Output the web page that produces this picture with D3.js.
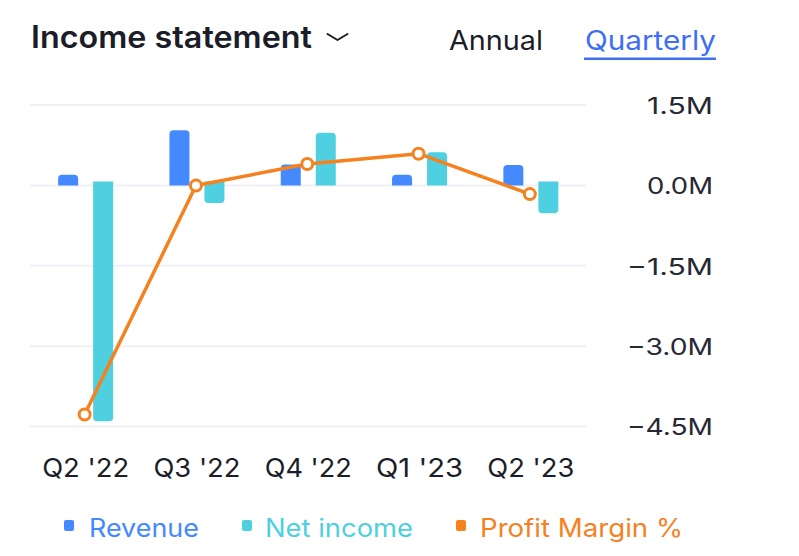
<!DOCTYPE html>
<html>
<head>
<meta charset="utf-8">
<script src="https://cdn.jsdelivr.net/npm/d3@7"></script>
<style>
  html, body { margin: 0; padding: 0; background: #ffffff; }
  svg { display: block; }
  text { font-family: Inter, "Noto Sans", "DejaVu Sans", sans-serif; }
</style>
</head>
<body>
<svg id="chart" width="799" height="556"></svg>
<script>
// ---- data ----
const categories = ["Q2 '22", "Q3 '22", "Q4 '22", "Q1 '23", "Q2 '23"];
const revenue = [0.20, 1.03, 0.39, 0.20, 0.38];          // millions
const netIncome = [-4.40, -0.33, 0.98, 0.62, -0.52];     // millions
const profitMargin = [-2280, -2, 213, 315, -87];         // percent (secondary, hidden axis)
const yTicks = [1.5, 0, -1.5, -3.0, -4.5];
const seriesNames = ["Revenue", "Net income", "Profit Margin %"];

// ---- style ----
const C = {
  revenue: "#4589FF",
  net: "#4ED0E0",
  margin: "#F5821F",
  text: "#1B1D28",
  grid: "#EEF0F6",
  tab: "#3D6EF5"
};

const svg = d3.select("#chart");

const x = d3.scaleBand().domain(categories).range([30, 586.5]).padding(0);
const y = d3.scaleLinear().domain([-4.5, 1.5]).range([426.5, 105]);
const yPct = d3.scaleLinear().domain([-2400, 800]).range([426.5, 105]);

const fmt = v => (v < 0 ? "\u2212" : "") + Math.abs(v).toFixed(1) + "M";

function fit(sel, w) {
  sel.attr("textLength", w).attr("lengthAdjust", "spacingAndGlyphs");
  return sel;
}

// ---- header ----
fit(svg.append("text").attr("x", 31).attr("y", 47.5)
  .attr("font-size", 31).attr("font-weight", 600).attr("fill", C.text)
  .text("Income statement"), 281);
svg.append("path").attr("d", "M327.5,34 L337.5,40 L347.5,34")
  .attr("fill", "none").attr("stroke", C.text).attr("stroke-width", 2)
  .attr("stroke-linecap", "round").attr("stroke-linejoin", "round");
fit(svg.append("text").attr("x", 449).attr("y", 50)
  .attr("font-size", 27).attr("fill", C.text).text("Annual"), 94);
fit(svg.append("text").attr("x", 585).attr("y", 50)
  .attr("font-size", 27).attr("fill", C.tab).text("Quarterly"), 131);
svg.append("rect").attr("x", 584).attr("y", 57.5).attr("width", 132).attr("height", 2.5)
  .attr("fill", C.tab);

// ---- grid ----
svg.append("g").selectAll("line").data(yTicks).join("line")
  .attr("x1", 30).attr("x2", 586)
  .attr("y1", d => y(d)).attr("y2", d => y(d))
  .attr("stroke", C.grid).attr("stroke-width", 2);

// ---- y axis (right) ----
const yAxis = d3.axisRight(y).tickValues(yTicks).tickFormat(fmt).tickSize(0).tickPadding(0);
const gy = svg.append("g").attr("transform", "translate(713,0)").call(yAxis);
gy.select(".domain").remove();
gy.selectAll("text").attr("text-anchor", "end").attr("x", 0).attr("dy", "0.36em")
  .attr("font-size", 23).attr("fill", "#262833")
  .style("font-family", "Inter, 'Noto Sans', sans-serif")
  .each(function(d) { d3.select(this).attr("textLength", d < 0 ? 86 : 66).attr("lengthAdjust", "spacingAndGlyphs"); });

// ---- x axis ----
const xAxis = d3.axisBottom(x).tickSize(0).tickPadding(0);
const gx = svg.append("g").attr("transform", "translate(0,0)").call(xAxis);
gx.select(".domain").remove();
gx.selectAll("text").attr("y", 477).attr("dy", 0)
  .attr("font-size", 26).attr("fill", C.text)
  .style("font-family", "Inter, 'Noto Sans', sans-serif")
  .attr("textLength", 87).attr("lengthAdjust", "spacingAndGlyphs");

// ---- bars ----
const barW = 20, r = 4, negGap = 4;
function barPath(x0, v) {
  const y0 = y(0);
  if (v >= 0) {
    const yt = y(v);
    const rr = Math.min(r, (y0 - yt));
    return `M${x0},${y0} L${x0},${yt + rr} Q${x0},${yt} ${x0 + rr},${yt} L${x0 + barW - rr},${yt} Q${x0 + barW},${yt} ${x0 + barW},${yt + rr} L${x0 + barW},${y0} Z`;
  } else {
    const ys = y0 - negGap;
    const yb = y(v);
    const rr = Math.min(r, (yb - ys));
    return `M${x0},${ys} L${x0},${yb - rr} Q${x0},${yb} ${x0 + rr},${yb} L${x0 + barW - rr},${yb} Q${x0 + barW},${yb} ${x0 + barW},${yb - rr} L${x0 + barW},${ys} Z`;
  }
}
const cx = c => x(c) + x.bandwidth() / 2;

svg.append("g").selectAll("path").data(categories).join("path")
  .attr("d", (c, i) => barPath(cx(c) - 27.5, revenue[i]))
  .attr("fill", C.revenue);
svg.append("g").selectAll("path").data(categories).join("path")
  .attr("d", (c, i) => barPath(cx(c) + 7.5, netIncome[i]))
  .attr("fill", C.net);

// ---- profit margin line ----
const pts = categories.map((c, i) => [cx(c) - 1, yPct(profitMargin[i])]);
svg.append("path").datum(pts)
  .attr("d", d3.line())
  .attr("fill", "none").attr("stroke", C.margin).attr("stroke-width", 3.5)
  .attr("stroke-linejoin", "round");
svg.append("g").selectAll("circle").data(pts).join("circle")
  .attr("cx", d => d[0]).attr("cy", d => d[1]).attr("r", 5.5)
  .attr("fill", "#fff").attr("stroke", C.margin).attr("stroke-width", 3);

// ---- legend ----
const legendColors = [C.revenue, C.net, C.margin];
const legendSq = [64, 242, 456];
const legendTx = [89, 265, 480];
const legendW = [110, 148, 203];
const lg = svg.append("g");
seriesNames.forEach((n, i) => {
  lg.append("rect").attr("x", legendSq[i]).attr("y", 520).attr("width", 10).attr("height", 11)
    .attr("rx", 2).attr("fill", legendColors[i]);
  fit(lg.append("text").attr("x", legendTx[i]).attr("y", 537)
    .attr("font-size", 25).attr("fill", legendColors[i]).text(n), legendW[i]);
});
</script>
</body>
</html>
